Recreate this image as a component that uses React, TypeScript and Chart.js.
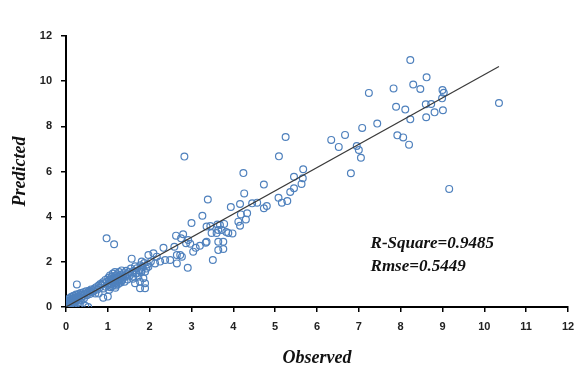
import React, { useEffect, useRef } from "react";
import { Chart, registerables } from "chart.js";

Chart.register(...registerables);

// Observed vs Predicted values
const observed: number[] = [
  0.02, 0.03, 0.04, 0.05, 0.06, 0.07, 0.08, 0.09, 0.10, 0.11, 0.12, 0.13, 0.14, 0.15, 0.16, 0.17, 0.18, 0.19, 0.20, 0.21,
  0.22, 0.23, 0.24, 0.25, 0.26, 0.27, 0.28, 0.29, 0.30, 0.31, 0.32, 0.33, 0.34, 0.35, 0.36, 0.37, 0.38, 0.40, 0.42, 0.43,
  0.45, 0.46, 0.48, 0.50, 0.52, 0.53, 0.55, 0.57, 0.58, 0.60, 0.62, 0.64, 0.66, 0.68, 0.70, 0.72, 0.75, 0.78, 0.80, 0.82,
  0.85, 0.88, 0.90, 0.92, 0.94, 0.95, 0.97, 0.98, 1.00, 1.01, 1.02, 1.03, 1.04, 1.05, 1.06, 1.07, 1.08, 1.09, 1.10, 1.11,
  1.12, 1.13, 1.14, 1.15, 1.15, 1.16, 1.17, 1.18, 1.19, 1.20, 1.21, 1.22, 1.23, 1.24, 1.25, 1.26, 1.27, 1.28, 1.29, 1.30,
  1.31, 1.32, 1.33, 1.34, 1.35, 1.36, 1.38, 1.40, 1.42, 1.44, 1.45, 0.89, 1.00, 0.78, 1.18,
  1.47, 1.50, 1.52, 1.55, 1.57, 1.58, 1.60, 1.61, 1.62, 1.65, 1.65, 1.68, 1.69, 1.70, 1.73, 1.75, 1.77, 1.77, 1.78, 1.80,
  1.81, 1.81, 1.83, 1.85, 1.87, 1.89, 1.89, 1.89, 1.92, 1.95, 1.97, 1.97, 2.03, 2.09, 2.13, 2.17,
  2.25, 2.33, 2.37, 2.49, 2.59, 2.63, 2.65, 2.65, 2.73, 2.75, 2.77, 2.80, 2.83, 2.87, 2.91, 2.92, 2.97, 3.04, 3.00, 3.10,
  3.20, 3.26, 3.34, 3.36, 3.36, 3.39, 3.45, 3.48, 3.51, 3.60, 3.62, 3.64, 3.64, 3.64, 3.68, 3.72, 3.76, 3.76, 3.78, 3.83,
  3.88, 3.98, 3.94, 4.12, 4.16, 4.16, 4.18, 4.24, 4.26, 4.30, 4.33, 4.45, 4.57, 4.73, 4.73, 4.80,
  5.08, 5.16, 5.29, 5.36, 5.45, 5.45, 5.09, 5.25, 5.63, 5.66, 5.67,
  6.34, 6.52, 6.67, 6.81, 6.95, 7.00, 7.05, 7.08, 7.24, 7.44, 7.83, 7.89, 7.92, 8.06, 8.11, 8.20, 8.23, 8.23, 8.30, 8.47,
  8.60, 8.61, 8.62, 8.73, 8.81, 8.99, 9.00, 9.01, 9.03, 9.16, 10.35,
];

const predicted: number[] = [
  0.05, 0.15, 0.28, 0.10, 0.35, 0.20, 0.02, 0.40, 0.25, 0.12, 0.32, 0.45, 0.18, 0.05, 0.38, 0.28, 0.50, 0.15, 0.35, 0.42,
  0.22, 0.08, 0.55, 0.30, 1.00, 0.40, 0.48, 0.20, 0.58, 0.35, 0.45, 0.10, 0.52, 0.62, 0.40, 0.30, 0.55, 0.48, 0.65, 0.38,
  0.58, 0.05, 0.70, 0.52, 0.62, 0.00, 0.72, 0.58, 0.68, 0.78, 0.65, 0.75, 0.70, 0.82, 0.60, 0.88, 0.78, 0.95, 0.85, 1.02,
  0.98, 1.10, 0.82, 1.05, 1.20, 0.90, 3.04, 1.12, 0.95, 1.30, 1.05, 0.75, 1.22, 1.40, 0.88, 1.15, 1.02, 1.35, 0.92, 1.25,
  1.48, 1.08, 0.98, 2.78, 1.32, 1.18, 1.55, 1.05, 1.40, 0.95, 1.28, 1.12, 1.45, 1.20, 1.02, 1.35, 1.55, 1.15, 1.25, 1.42,
  1.08, 1.30, 1.62, 1.18, 1.40, 1.25, 1.50, 1.12, 1.35, 1.60, 1.45, 0.41, 0.46, 0.60, 0.85,
  1.22, 1.55, 1.38, 1.70, 2.14, 1.48, 1.25, 1.34, 1.60, 1.05, 1.80, 1.50, 1.49, 1.72, 1.34, 1.62, 1.12, 0.83, 1.85, 1.55,
  1.64, 2.01, 1.78, 1.27, 1.95, 1.05, 0.83, 1.56, 1.70, 1.88, 1.78, 2.30, 2.01, 2.38, 1.93, 2.23,
  2.01, 2.62, 2.08, 2.08, 2.67, 3.16, 2.30, 1.93, 2.30, 3.04, 2.23, 3.22, 6.66, 2.82, 1.74, 2.97, 2.80, 2.45, 3.72, 2.62,
  2.71, 4.04, 2.85, 2.89, 3.56, 4.76, 3.59, 3.28, 2.08, 3.28, 3.65, 2.89, 2.52, 3.41, 3.63, 3.41, 2.89, 2.57, 3.68, 3.32,
  3.28, 3.26, 4.43, 3.78, 3.60, 4.56, 4.10, 5.93, 5.03, 3.88, 4.15, 4.59, 4.62, 5.42, 4.37, 4.47,
  4.84, 4.62, 4.69, 5.09, 5.26, 5.77, 6.67, 7.53, 5.45, 5.70, 6.10,
  7.40, 7.09, 7.62, 5.92, 7.13, 6.95, 6.61, 7.93, 9.48, 8.12, 9.68, 8.87, 7.60, 7.51, 8.74, 7.19, 8.31, 10.94, 9.85, 9.65,
  8.98, 8.40, 10.17, 8.99, 8.62, 9.24, 9.61, 8.71, 9.49, 5.23, 9.03,
];

// Fitted line end points
const fitX: number[] = [0, 10.35];
const fitY: number[] = [0, 10.65];

const statLabels: string[] = ["R-Square=0.9485", "Rmse=0.5449"];
const statAnchorX = 7.28;
const statAnchorY: number[] = [2.8, 1.78];

export default function App() {
  const ref = useRef<HTMLCanvasElement | null>(null);

  useEffect(() => {
    document.body.style.margin = "0";
    const canvas = ref.current;
    if (!canvas) return;

    const statsPlugin = {
      id: "stats",
      afterDraw(chart: any) {
        const { ctx, scales } = chart;
        ctx.save();
        ctx.font = "bold italic 17px 'Liberation Serif'";
        ctx.fillStyle = "#111111";
        ctx.textBaseline = "middle";
        ctx.textAlign = "left";
        statLabels.forEach((t, i) => {
          ctx.fillText(t, scales.x.getPixelForValue(statAnchorX), scales.y.getPixelForValue(statAnchorY[i]));
        });
        ctx.restore();
      },
    };

    const tickFont = { family: "'Liberation Sans'", size: 11, weight: "bold" as const };
    const titleFont = { family: "'Liberation Serif'", size: 18, weight: "bold" as const, style: "italic" as const };

    const chart = new Chart(canvas, {
      type: "scatter",
      data: {
        datasets: [
          {
            label: "Fit",
            data: fitX.map((x, i) => ({ x, y: fitY[i] })),
            showLine: true,
            borderColor: "#3a3a3a",
            borderWidth: 1.2,
            pointRadius: 0,
            fill: false,
            order: 0,
          },
          {
            label: "Data",
            data: observed.map((x, i) => ({ x, y: predicted[i] })),
            pointStyle: "circle",
            pointRadius: 3.4,
            borderWidth: 1.2,
            borderColor: "#4F81BD",
            backgroundColor: "rgba(0,0,0,0)",
            order: 1,
          },
        ],
      },
      options: {
        responsive: false,
        animation: false,
        layout: { padding: { top: 36, right: 8, left: 0, bottom: 0 } },
        plugins: { legend: { display: false }, tooltip: { enabled: false } },
        scales: {
          x: {
            type: "linear",
            min: 0,
            max: 12,
            ticks: { stepSize: 1, color: "#222", font: tickFont, padding: 8 },
            grid: { drawOnChartArea: false, drawTicks: true, tickLength: 5, color: "#000", lineWidth: 1.5 },
            border: { display: true, color: "#000", width: 2 },
            title: {
              display: true,
              text: "Observed",
              color: "#111",
              font: titleFont,
              padding: { top: 0, bottom: 1 },
            },
            afterFit: (s: any) => {
              s.height = 63;
              s.paddingRight = 0;
              s.paddingLeft = 0;
            },
          },
          y: {
            type: "linear",
            min: 0,
            max: 12,
            ticks: { stepSize: 2, color: "#222", font: tickFont, padding: 9 },
            grid: { drawOnChartArea: false, drawTicks: true, tickLength: 5, color: "#000", lineWidth: 1.5 },
            border: { display: true, color: "#000", width: 2 },
            title: {
              display: true,
              text: "Predicted",
              color: "#111",
              font: titleFont,
              padding: { top: 10, bottom: 0 },
            },
            afterFit: (s: any) => {
              s.width = 66;
            },
          },
        },
      },
      plugins: [statsPlugin],
    });

    return () => chart.destroy();
  }, []);

  return (
    <div style={{ width: 576, height: 370, background: "#fff" }}>
      <canvas ref={ref} width={576} height={370} />
    </div>
  );
}
